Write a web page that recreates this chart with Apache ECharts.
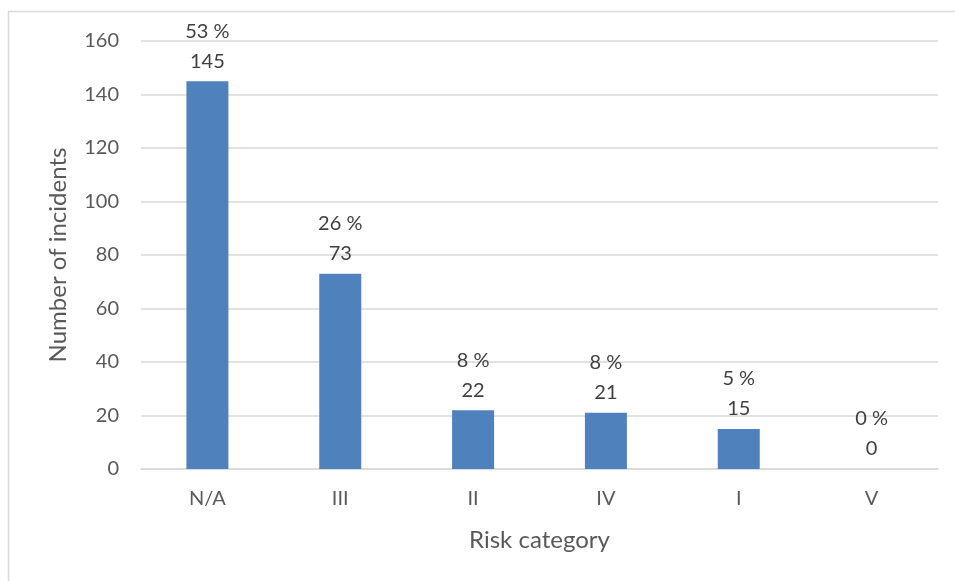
<!DOCTYPE html>
<html>
<head>
<meta charset="utf-8">
<script src="https://cdn.jsdelivr.net/npm/echarts@6/dist/echarts.min.js"></script>
<style>
  html, body { margin: 0; padding: 0; background: #ffffff; }
  #chart { width: 955px; height: 581px; }
</style>
</head>
<body>
<div id="chart"></div>
<script>
// Incidents per risk category
const categories = ['N/A', 'III', 'II', 'IV', 'I', 'V'];
const incidents = [145, 73, 22, 21, 15, 0];
const shares = ['53 %', '26 %', '8 %', '8 %', '5 %', '0 %'];
const yTicks = [0, 20, 40, 60, 80, 100, 120, 140, 160];

const FONT = 'Lato, "Open Sans", sans-serif';
const TEXT = '#595959';
const LABEL = '#404040';
const GRID = '#d9d9d9';

const chart = echarts.init(document.getElementById('chart'), null, { renderer: 'canvas' });

chart.setOption({
  animation: false,
  backgroundColor: '#ffffff',
  graphic: [{
    type: 'rect',
    shape: { x: 8.5, y: 11.5, width: 960, height: 600 },
    style: { fill: 'none', stroke: GRID, lineWidth: 1.5 },
    silent: true,
    z: -1
  }],
  grid: { left: 141, right: 17, top: 41, bottom: 112, containLabel: false },
  xAxis: {
    type: 'category',
    data: categories,
    axisTick: { show: false },
    axisLine: { lineStyle: { color: GRID, width: 1.5 } },
    axisLabel: { color: TEXT, fontFamily: FONT, fontSize: 20, margin: 20 },
    name: 'Risk category',
    nameLocation: 'middle',
    nameGap: 59,
    nameTextStyle: { color: TEXT, fontFamily: FONT, fontSize: 24 }
  },
  yAxis: {
    type: 'value',
    min: yTicks[0],
    max: yTicks[yTicks.length - 1],
    interval: yTicks[1] - yTicks[0],
    axisLine: { show: false },
    axisTick: { show: false },
    splitLine: { lineStyle: { color: GRID, width: 1.5 } },
    axisLabel: { color: TEXT, fontFamily: FONT, fontSize: 20, margin: 22 },
    name: 'Number of incidents',
    nameLocation: 'middle',
    nameGap: 71,
    nameRotate: 90,
    nameTextStyle: { color: TEXT, fontFamily: FONT, fontSize: 24 }
  },
  series: [{
    type: 'bar',
    data: incidents,
    barWidth: 42,
    itemStyle: { color: '#4f81bd' },
    label: {
      show: true,
      position: 'top',
      distance: 5,
      formatter: p => '{pct|' + shares[p.dataIndex] + '}\n{val|' + p.value + '}',
      rich: {
        pct: { color: LABEL, fontFamily: FONT, fontSize: 20, lineHeight: 30, align: 'center' },
        val: { color: LABEL, fontFamily: FONT, fontSize: 20, lineHeight: 30, align: 'center' }
      }
    }
  }]
});
</script>
</body>
</html>
